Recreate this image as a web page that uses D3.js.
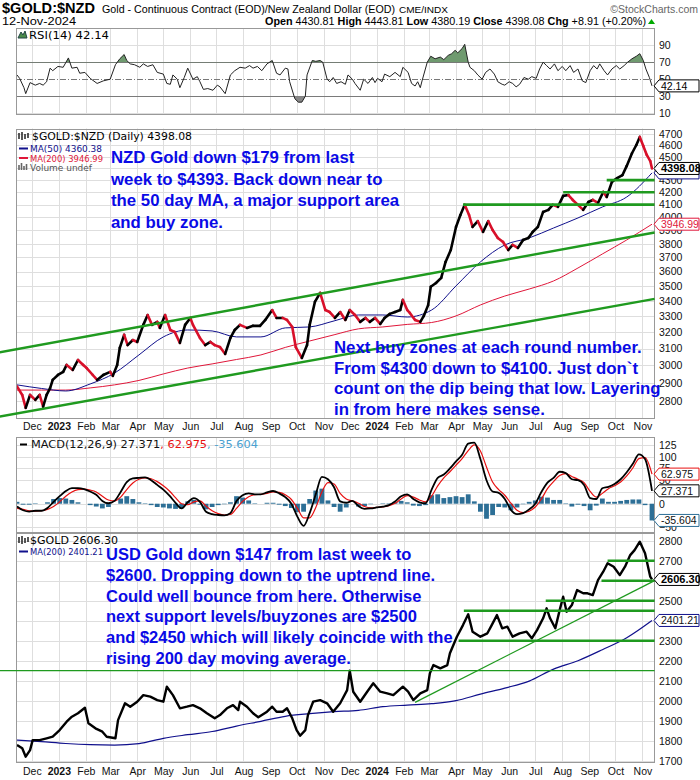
<!DOCTYPE html>
<html><head><meta charset="utf-8">
<script src="https://cdn.jsdelivr.net/npm/d3@7"></script>
<style>body{margin:0;background:#fff}svg{display:block}</style>
</head><body>
<svg id="c" width="700" height="780"></svg>
<script>
// ---------------- DATA ----------------
const startDate = "2022-11-14";   // day 0
const endDate = "2024-11-12";     // day 729
// NZD gold price: day offsets from startDate and values
const nzdDays = [0,6,10,15,21,26,30,34,38,41, 47,53,57,64,70,76,80,87,92,99,
 107,110,115,118,123,127,133,138,145,150, 155,161,164,170,176,181,187,193,199,202,
 210,216,222,227,233,239,245,250,256,264, 271,279,285,293,298,305,310,316,320,327,
 333,336,342,348,354,359,365,371,377,382, 388,394,400,405,411,417,422,428,434,440,
 443,448,451,457,463,467,472,475,481,487, 492,498,504,509,514,519,523,529,535,541,
 546,552,558,564,569,575,581,587,592,598, 604,610,615,621,627,633,638,644,650,656,
 661,667,673,677,683,689,695,700,706,711, 715,719,723,727,729];
const nzdValues = [2880,2833,2763,2833,2806,2833,2769,2833,2871,2917, 2945,2963,3003,2974,3032,3003,2985,2945,2917,2945,
 2963,2940,3003,3104,3184,3121,3152,3140,3246,3309, 3246,3265,3227,3309,3214,3202,3134,3246,3290,3246,
 3165,3121,3140,3121,3109,3068,3165,3214,3246,3227, 3240,3240,3277,3341,3290,3290,3277,3233,3109,3044,
 3121,3246,3394,3454,3341,3328,3290,3328,3277,3341, 3309,3265,3290,3265,3290,3252,3290,3316,3328,3341,
 3407,3341,3322,3277,3265,3303,3373,3495,3521,3556, 3668,3754,3926,4018,4098,4018,3926,3971,3888,3971,
 3903,3843,3813,3754,3791,3769,3828,3843,3888,3926, 4042,4058,4098,4082,4170,4177,4137,4098,4058,4121,
 4137,4113,4202,4161,4285,4317,4341,4420,4530,4603, 4676,4595,4515,4462,4398.08];
// moving averages sampled every 4 weeks
const nzdMA50 = [2889,2869,2855,2894,2956,3062,3171,3214,3208,3171,3171,3227,3233,3271,3309,3309,3296,3341,3501,3668,3791,3843,3918,3995,4081,4161,4360.38];
const nzdMA200 = [2860,2860,2860,2872,2889,2914,2951,2985,3009,3035,3062,3107,3146,3184,3221,3233,3249,3261,3303,3374,3433,3480,3535,3625,3725,3828,3946.99];
// RSI(14)
const rsiDays = [0,3,8,10,15,21,26,30,34,38, 41,47,53,59,63,69,72,78,84,92,
 99,107,113,118,123,126,130,135,141,145, 150,156,161,168,172,176,179,184,187,192,
 196,202,207,210,214,219,225,230,233,239, 245,250,256,262,267,271,276,281,287,293,
 298,302,308,311,313,319,323,327,331,333, 339,343,348,351,356,359,363,367,372,377,
 380,385,388,394,398,403,408,411,414,419, 422,428,434,440,443,449,453,457,460,463,
 465,471,475,480,486,490,495,499,503,506, 511,514,518,520,525,529,534,538,543,548,
 552,557,560,565,569,573,577,582,587,591, 596,600,604,608,612,617,621,626,630,635,
 639,644,649,653,658,662,666,669,674,678, 683,688,692,697,701,706,711,715,719,722, 726,729];
const rsiValues = [55,51,40,33,46,43,45,43,47,63, 60,65,64,75,63,64,57,58,51,45,
 48,50,67,74,79,72,68,67,64,68, 65,67,58,56,45,44,55,50,40,52,
 63,50,53,47,38,39,37,43,41,33, 55,60,64,63,66,63,65,60,68,72,
 57,55,63,62,47,27,23,23,30,55, 72,71,72,70,50,47,52,45,47,44,
 55,50,45,37,50,45,52,46,51,47, 56,53,58,53,64,58,45,42,47,40,
 48,70,77,74,76,73,78,80,84,81, 86,91,70,64,60,55,50,58,62,56,
 47,44,43,47,45,41,44,52,50,53, 51,62,70,66,62,68,60,65,60,66,
 58,62,48,46,60,66,62,68,60,55, 62,66,62,66,70,74,77,80,72,62, 52,42.14];
// MACD(12,26,9), weekly samples
const macdLine = [-6,-14,-17,-15,-15,-9,4,16,27,33,
 33,31,26,19,6,1,6,25,46,54,
 55,56,50,40,30,17,2,-10,3,12,
 4,-17,-22,-24,-25,-20,6,18,22,20,
 20,24,27,22,14,0,-28,-47,-20,20,
 57,52,35,5,2,6,-5,-11,-10,-8,
 -6,-3,5,16,20,10,3,1,30,55,
 62,75,90,104,128,130,95,50,26,23,
 10,-13,-22,-20,-12,0,25,45,55,68,
 65,52,50,40,12,10,33,36,42,52,
 67,85,105,95,27.371];
const macdSignal = [-10,-12,-15,-16,-15,-12,-6,4,16,25,
 30,31,29,25,16,8,6,14,30,44,
 52,55,53,47,38,27,13,0,-2,4,
 6,-5,-15,-21,-24,-23,-10,5,15,19,
 20,22,25,24,19,9,-10,-30,-30,-8,
 25,45,42,22,10,6,1,-6,-9,-8,
 -7,-4,1,10,17,14,8,4,16,38,
 55,68,82,96,113,125,112,78,46,30,
 18,1,-14,-19,-16,-7,10,32,47,60,
 64,58,52,45,26,14,22,32,38,46,
 59,76,96,98,62.975];
const macdHist = [4,-2,-2,1,0,3,10,12,11,8,
 3,0,-3,-6,-10,-7,0,11,16,10,
 3,1,-3,-7,-8,-10,-11,-10,5,8,
 -2,-12,-7,-3,-1,3,16,13,7,1,
 0,2,2,-2,-5,-9,-18,-17,10,28,
 32,7,-7,-17,-8,0,-6,-5,-1,0,
 1,1,4,6,3,-4,-5,-3,18,20,
 12,14,16,14,20,5,-17,-32,-24,-7,
 -8,-14,-8,-1,4,7,15,13,8,8,
 1,-6,-2,-5,-14,-4,11,4,4,6,
 8,9,9,-3,-35.604];
// USD gold price
const usdDays = [0,6,10,15,18,26,34,41,49,57, 63,70,78,82,90,98,103,113,116,124,
 130,138,145,153,161,168,172,179,187,195, 202,210,218,227,233,241,248,254,256,264,
 271,277,287,293,298,305,310,316,321,325, 331,334,340,348,356,363,371,379,382,386,
 394,402,409,417,425,432,443,449,455,463, 471,474,478,486,494,497,505,512,518,523,
 532,540,545,551,557,563,569,577,585,591, 597,604,608,612,618,623,627,631,637,643,
 650,655,661,667,673,678,685,692,698,704, 709,715,721,727,729];
const usdValues = [1779,1762,1720,1753,1803,1803,1812,1820,1853,1895, 1920,1937,1965,1887,1862,1845,1820,1812,1903,1987,
 1970,1995,2028,2020,2003,1995,2070,2028,1962,1970, 1978,1962,1937,1912,1928,1962,1978,1953,1995,1970,
 1937,1917,1945,1970,1945,1945,1962,1912,1853,1825, 1853,1928,1995,2003,1987,1945,1987,2053,2150,2045,
 1995,2045,2087,2045,2037,2028,2070,2045,2003,2037, 2053,2137,2178,2162,2178,2237,2320,2378,2432,2345,
 2320,2337,2378,2428,2362,2370,2320,2337,2345,2312, 2353,2412,2462,2412,2362,2453,2520,2445,2478,2553,
 2537,2537,2528,2603,2645,2687,2670,2628,2670,2728, 2753,2795,2737,2620,2606.30];
const usdMA200 = [1803,1795,1786,1780,1778,1785,1812,1830,1846,1873,1897,1922,1935,1945,1952,1970,1978,1985,2000,2033,2063,2098,2158,2200,2255,2315,2401.21];

const nzdTicks = [2800,2900,3000,3100,3200,3300,3400,3500,3600,3700,3800,3900,4000,4100,4200,4300,4400,4500,4600,4700];
const usdTicks = [1700,1800,1900,2000,2100,2200,2300,2400,2500,2600,2700,2800];
const rsiTicks = [10,30,50,70,90];
const macdTicks = [-50,-25,0,25,50,75,100,125];

// annotation lines [date1, value1, date2, value2]
const nzdChannel = [["2022-10-25",3077,"2024-11-15",3884],["2022-10-25",2717,"2024-11-15",3414]];
const nzdSupport = [["2024-04-09",4100],["2024-08-02",4200],["2024-09-21",4300]];
const usdThin = [["2022-10-25",2150,"2024-11-15",2150],["2024-02-14",1992,"2024-11-15",2600]];
const usdSupport = [["2024-09-22",2700],["2024-09-15",2600],["2024-07-13",2500],["2024-04-10",2450],["2024-04-04",2300]];

const note1 = ["NZD Gold down $179 from last","week to $4393. Back down near to","the 50 day MA, a major support area","and buy zone."];
const note2 = ["Next buy zones at each round number.","From $4300 down to $4100. Just don`t","count on the dip being that low. Layering","in from here makes sense."];
const note3 = ["USD Gold down $147 from last week to","$2600. Dropping down to the uptrend line.","Could well bounce from here. Otherwise","next support levels/buyzones are $2500","and $2450 which will likely coincide with the","rising 200 day moving average."];

// ---------------- SETUP ----------------
const svg = d3.select("#c");
const SANS = "'Liberation Sans', Arial, sans-serif";
const VER = "'DejaVu Sans', Verdana, sans-serif";
const parse = d3.timeParse("%Y-%m-%d");
const t0 = parse(startDate), t1 = parse(endDate);
const day = d => d3.timeDay.offset(t0, d);
const weekDates = macdLine.map((d,i)=> i===macdLine.length-1 ? t1 : d3.timeDay.offset(t0, 7*i));
const maDates = weekDates.filter((d,i)=> i%4===0);
const L = 16, R = 655;
const x = d3.scaleTime().domain([t0,t1]).range([17,652]);
const P = {rsi:{top:28,bottom:115}, main:{top:128.5,bottom:418}, macd:{top:437,bottom:533}, usd:{top:533,bottom:763}};
const yRsi = d3.scaleLinear().domain([7.9,110.2]).range([P.rsi.bottom,P.rsi.top]);
const yMain = d3.scaleLog().domain([2709,4753]).range([P.main.bottom,P.main.top]);
const yMacd = d3.scaleLinear().domain([-62.3,141.9]).range([P.macd.bottom,P.macd.top]);
const yUsd = d3.scaleLinear().domain([1688.5,2838.5]).range([P.usd.bottom,P.usd.top]);
const months = d3.timeMonth.range(d3.timeMonth.ceil(t0), t1);
const crisp = v => Math.round(v)+0.5;

const defs = svg.append("defs");
Object.entries(P).forEach(([k,p])=>{
  defs.append("clipPath").attr("id","clip-"+k).append("rect").attr("x",L).attr("y",p.top).attr("width",R-L).attr("height",p.bottom-p.top);
});
defs.append("clipPath").attr("id","clip-ob").append("rect").attr("x",L).attr("y",P.rsi.top).attr("width",R-L).attr("height",yRsi(70)-P.rsi.top);
defs.append("clipPath").attr("id","clip-os").append("rect").attr("x",L).attr("y",yRsi(30)).attr("width",R-L).attr("height",P.rsi.bottom-yRsi(30));

function grid(p, scale, ticks){
  const g = svg.append("g");
  g.append("rect").attr("x",L).attr("y",p.top).attr("width",R-L).attr("height",p.bottom-p.top).attr("fill","#fff");
  g.selectAll("line.v").data(months).join("line").attr("class","v")
    .attr("x1",d=>crisp(x(d))).attr("x2",d=>crisp(x(d))).attr("y1",p.top).attr("y2",p.bottom)
    .attr("stroke","#dedede");
  g.selectAll("line.h").data(ticks).join("line").attr("class","h")
    .attr("x1",L).attr("x2",R).attr("y1",d=>crisp(scale(d))).attr("y2",d=>crisp(scale(d)))
    .attr("stroke","#dedede");
}
function frame(p){
  svg.append("rect").attr("x",L+0.5).attr("y",Math.round(p.top)+0.5).attr("width",R-L-1).attr("height",Math.round(p.bottom-p.top)-1)
    .attr("fill","none").attr("stroke","#999");
}
function rightAxis(scale, ticks, covered){
  const shown = ticks.filter(t=> !(covered||[]).includes(t));
  const g = svg.append("g").attr("transform",`translate(${R},0)`)
    .call(d3.axisRight(scale).tickValues(shown).tickSize(0).tickPadding(4).tickFormat(d3.format("d")));
  g.select(".domain").remove();
  g.selectAll("text").attr("font-family",SANS).attr("font-size",10.5).attr("fill","#111");
}
function monthAxis(yPos){
  const g = svg.append("g").attr("transform",`translate(0,${yPos})`)
    .call(d3.axisBottom(x).tickValues(months).tickSize(0).tickPadding(0)
      .tickFormat(d=> d.getMonth()===0 ? d3.timeFormat("%Y")(d) : d3.timeFormat("%b")(d)));
  g.select(".domain").remove();
  g.selectAll("text").attr("font-family",SANS).attr("font-size",10.5).attr("fill","#111")
    .attr("font-weight",d=>d.getMonth()===0?"bold":"normal");
}
function tag(yv, label, stroke, color, bold){
  const h = 12;
  svg.append("path").attr("d",`M654,${yv}L659,${yv-h/2}H699V${yv+h/2}H659Z`)
    .attr("fill","#fff").attr("stroke",stroke).attr("stroke-width",1);
  if(label) svg.append("text").attr("x",661).attr("y",yv).attr("dy","0.36em").text(label)
    .attr("font-family",SANS).attr("font-size",bold?11:10.5).attr("font-weight",bold?"bold":"normal").attr("fill",color);
}
function segLine(a, b, scale, color, w){
  svg.append("line")
    .attr("x1",x(parse(a[0]))).attr("y1",scale(a[1])).attr("x2",x(parse(b[0]))).attr("y2",scale(b[1]))
    .attr("stroke",color).attr("stroke-width",w);
}
function note(lines, x0, y0, dy, size){
  const t = svg.append("text").attr("font-family",SANS).attr("font-weight","bold").attr("font-size",size).attr("fill","#0a0ae6");
  lines.forEach((s,i)=> t.append("tspan").attr("x",x0).attr("y",y0+i*dy).text(s));
}

// ---------------- HEADER ----------------
svg.append("text").attr("x",2).attr("y",13).attr("font-family",SANS).attr("font-weight","bold").attr("font-size",14.5)
  .attr("textLength",93).attr("lengthAdjust","spacingAndGlyphs").text("$GOLD:$NZD");
svg.append("text").attr("x",102).attr("y",13).attr("font-family",SANS).attr("font-size",11.5)
  .attr("textLength",293).attr("lengthAdjust","spacingAndGlyphs").text("Gold - Continuous Contract (EOD)/New Zealand Dollar (EOD)");
svg.append("text").attr("x",399).attr("y",13).attr("font-family",SANS).attr("font-size",9.5)
  .attr("textLength",49).attr("lengthAdjust","spacingAndGlyphs").text("CME/INDX");
svg.append("text").attr("x",698).attr("y",13).attr("text-anchor","end").attr("font-family",SANS).attr("font-size",10.5).attr("fill","#666")
  .text("©StockCharts.com");
svg.append("text").attr("x",2).attr("y",25).attr("font-family",SANS).attr("font-size",11.5)
  .attr("textLength",74).attr("lengthAdjust","spacingAndGlyphs").text("12-Nov-2024");
{
  const t = svg.append("text").attr("x",265).attr("y",25).attr("font-family",SANS).attr("font-size",11.5)
    .attr("textLength",381).attr("lengthAdjust","spacingAndGlyphs");
  [["Open ",1],["4430.81 ",0],["High ",1],["4443.81 ",0],["Low ",1],["4380.19 ",0],["Close ",1],["4398.08 ",0],["Chg ",1],["+8.91 (+0.20%)",0]]
    .forEach(([s,b])=> t.append("tspan").attr("font-weight",b?"bold":"normal").text(s));
  svg.append("path").attr("d","M648,24L651.5,19L655,24Z").attr("fill","#0a0");
}

// ---------------- RSI PANEL ----------------
grid(P.rsi, yRsi, [10,90]);
[30,70].forEach(v=> svg.append("line").attr("x1",L).attr("x2",R).attr("y1",crisp(yRsi(v))).attr("y2",crisp(yRsi(v))).attr("stroke","#777"));
svg.append("line").attr("x1",L).attr("x2",R).attr("y1",crisp(yRsi(50))).attr("y2",crisp(yRsi(50))).attr("stroke","#777").attr("stroke-dasharray","6,2,1,2");
const rsiPts = rsiValues.map((v,i)=>[day(rsiDays[i]),v]);
svg.append("path").datum(rsiPts).attr("clip-path","url(#clip-ob)")
  .attr("d",d3.area().x(d=>x(d[0])).y0(yRsi(70)).y1(d=>yRsi(d[1]))).attr("fill","#6f9a6f").attr("stroke","none");
svg.append("path").datum(rsiPts).attr("clip-path","url(#clip-os)")
  .attr("d",d3.area().x(d=>x(d[0])).y0(yRsi(30)).y1(d=>yRsi(d[1]))).attr("fill","#888").attr("stroke","none");
svg.append("path").datum(rsiPts).attr("clip-path","url(#clip-rsi)")
  .attr("d",d3.line().x(d=>x(d[0])).y(d=>yRsi(d[1]))).attr("fill","none").attr("stroke","#222").attr("stroke-width",1);
frame(P.rsi);
rightAxis(yRsi, rsiTicks);
svg.append("path").attr("d","M18,38L21,32L23,35L25,31L27,38Z").attr("fill","#4a8a4a").attr("stroke","#244");
svg.append("text").attr("x",29).attr("y",38.5).attr("font-family",VER).attr("font-size",10).attr("textLength",80).attr("lengthAdjust","spacingAndGlyphs").text("RSI(14) 42.14");
tag(yRsi(42.14),"42.14","#000","#000",false);

// ---------------- MAIN NZD PANEL ----------------
grid(P.main, yMain, nzdTicks);
const mg = svg.append("g").attr("clip-path","url(#clip-main)");
mg.append("path").datum(nzdMA200.map((v,i)=>[maDates[i],v]))
  .attr("d",d3.line().curve(d3.curveMonotoneX).x(d=>x(d[0])).y(d=>yMain(d[1]))).attr("fill","none").attr("stroke","#e0173a").attr("stroke-width",1);
mg.append("path").datum(nzdMA50.map((v,i)=>[maDates[i],v]))
  .attr("d",d3.line().curve(d3.curveMonotoneX).x(d=>x(d[0])).y(d=>yMain(d[1]))).attr("fill","none").attr("stroke","#10108c").attr("stroke-width",1);
mg.selectAll("line.p").data(nzdValues.slice(1)).join("line").attr("class","p")
  .attr("x1",(d,i)=>x(day(nzdDays[i]))).attr("y1",(d,i)=>yMain(nzdValues[i]))
  .attr("x2",(d,i)=>x(day(nzdDays[i+1]))).attr("y2",d=>yMain(d))
  .attr("stroke",(d,i)=> d>=nzdValues[i] ? "#000" : "#d8102a").attr("stroke-width",2.6).attr("stroke-linecap","round");
frame(P.main);
rightAxis(yMain, nzdTicks, [4400]);
monthAxis(422.5);
svg.append("text").attr("x",32).attr("y",140).attr("font-family",VER).attr("font-size",10.5).attr("textLength",160).attr("lengthAdjust","spacingAndGlyphs").text("$GOLD:$NZD (Daily) 4398.08");
svg.append("path").attr("d","M19,139V133M22,140V132M25,139V134M28,138V133").attr("stroke","#222").attr("stroke-width",1.5);
svg.append("line").attr("x1",19).attr("x2",28).attr("y1",148.5).attr("y2",148.5).attr("stroke","#10108c").attr("stroke-width",2);
svg.append("text").attr("x",30).attr("y",152).attr("font-family",VER).attr("font-size",9).attr("fill","#10108c").attr("textLength",72).attr("lengthAdjust","spacingAndGlyphs").text("MA(50) 4360.38");
svg.append("line").attr("x1",19).attr("x2",28).attr("y1",158).attr("y2",158).attr("stroke","#e0173a").attr("stroke-width",2);
svg.append("text").attr("x",30).attr("y",161.5).attr("font-family",VER).attr("font-size",9).attr("fill","#e0173a").attr("textLength",73).attr("lengthAdjust","spacingAndGlyphs").text("MA(200) 3946.99");
svg.append("path").attr("d","M19,170V165M21.5,170V163M24,170V166M26.5,170V164").attr("stroke","#666").attr("stroke-width",1.6);
svg.append("text").attr("x",30).attr("y",171).attr("font-family",VER).attr("font-size",9).attr("fill","#555").attr("textLength",62).attr("lengthAdjust","spacingAndGlyphs").text("Volume undef");
nzdChannel.forEach(c=> segLine([c[0],c[1]],[c[2],c[3]],yMain,"#1f9a1f",2.4));
nzdSupport.forEach(s=> segLine([s[0],s[1]],["2024-11-15",s[1]],yMain,"#1f9a1f",2.6));
tag(yMain(3946.99),"3946.99","#e0173a","#e0173a",false);
tag(yMain(4360.38),null,"#10108c","#10108c",false);
tag(yMain(4398.08),"4398.08","#000","#000",true);
note(note1, 111, 163, 21.7, 16.8);
note(note2, 334, 353, 20.7, 16.8);

// ---------------- MACD PANEL ----------------
grid(P.macd, yMacd, macdTicks);
const bw = 4.8;
const hg = svg.append("g").attr("clip-path","url(#clip-macd)");
hg.selectAll("rect").data(macdHist).join("rect")
  .attr("x",(d,i)=>x(weekDates[i])-bw/2).attr("width",bw)
  .attr("y",d=>Math.min(yMacd(d),yMacd(0))).attr("height",d=>Math.abs(yMacd(d)-yMacd(0)))
  .attr("fill","#2d6f96");
hg.append("path").datum(macdSignal.map((v,i)=>[weekDates[i],v]))
  .attr("d",d3.line().curve(d3.curveMonotoneX).x(d=>x(d[0])).y(d=>yMacd(d[1]))).attr("fill","none").attr("stroke","#e81010").attr("stroke-width",1.2);
hg.append("path").datum(macdLine.map((v,i)=>[weekDates[i],v]))
  .attr("d",d3.line().curve(d3.curveMonotoneX).x(d=>x(d[0])).y(d=>yMacd(d[1]))).attr("fill","none").attr("stroke","#000").attr("stroke-width",1.8);
frame(P.macd);
rightAxis(yMacd, macdTicks, [25,-25]);
svg.append("line").attr("x1",20).attr("x2",27).attr("y1",444.5).attr("y2",444.5).attr("stroke","#000").attr("stroke-width",2);
{
  const t = svg.append("text").attr("x",31).attr("y",448).attr("font-family",VER).attr("font-size",10).attr("textLength",227).attr("lengthAdjust","spacingAndGlyphs");
  t.append("tspan").attr("fill","#111").text("MACD(12,26,9) 27.371");
  t.append("tspan").attr("fill","#e81010").text(", 62.975");
  t.append("tspan").attr("fill","#4aa0d0").text(", -35.604");
}
tag(yMacd(62.975),"62.975","#e81010","#111",false);
tag(yMacd(27.371),"27.371","#000","#111",false);
tag(yMacd(-35.604),"-35.604","#2d6f96","#111",false);

// ---------------- USD PANEL ----------------
grid(P.usd, yUsd, usdTicks);
const ug = svg.append("g").attr("clip-path","url(#clip-usd)");
ug.append("path").datum(usdMA200.map((v,i)=>[maDates[i],v]))
  .attr("d",d3.line().curve(d3.curveMonotoneX).x(d=>x(d[0])).y(d=>yUsd(d[1]))).attr("fill","none").attr("stroke","#10108c").attr("stroke-width",1.2);
ug.append("path").datum(usdValues.map((v,i)=>[day(usdDays[i]),v]))
  .attr("d",d3.line().x(d=>x(d[0])).y(d=>yUsd(d[1]))).attr("fill","none").attr("stroke","#000").attr("stroke-width",2.4).attr("stroke-linejoin","round");
frame(P.usd);
rightAxis(yUsd, usdTicks, [2600,2400]);
monthAxis(767.5);
svg.append("path").attr("d","M19,543V537M22,544V536M25,543V538M28,542V537").attr("stroke","#222").attr("stroke-width",1.5);
svg.append("text").attr("x",30).attr("y",544).attr("font-family",VER).attr("font-size",10.5).attr("textLength",88).attr("lengthAdjust","spacingAndGlyphs").text("$GOLD 2606.30");
svg.append("line").attr("x1",19).attr("x2",28).attr("y1",551.5).attr("y2",551.5).attr("stroke","#10108c").attr("stroke-width",2);
svg.append("text").attr("x",30).attr("y",555).attr("font-family",VER).attr("font-size",9).attr("fill","#10108c").attr("textLength",73).attr("lengthAdjust","spacingAndGlyphs").text("MA(200) 2401.21");
usdThin.forEach(c=> segLine([c[0],c[1]],[c[2],c[3]],yUsd,"#1f9a1f",1.3));
usdSupport.forEach(s=> segLine([s[0],s[1]],["2024-11-15",s[1]],yUsd,"#1f9a1f",2.6));
tag(yUsd(2401.21),"2401.21","#10108c","#111",false);
tag(yUsd(2606.30),"2606.30","#000","#000",true);
note(note3, 106, 560, 20.8, 16.5);
</script>
</body></html>
